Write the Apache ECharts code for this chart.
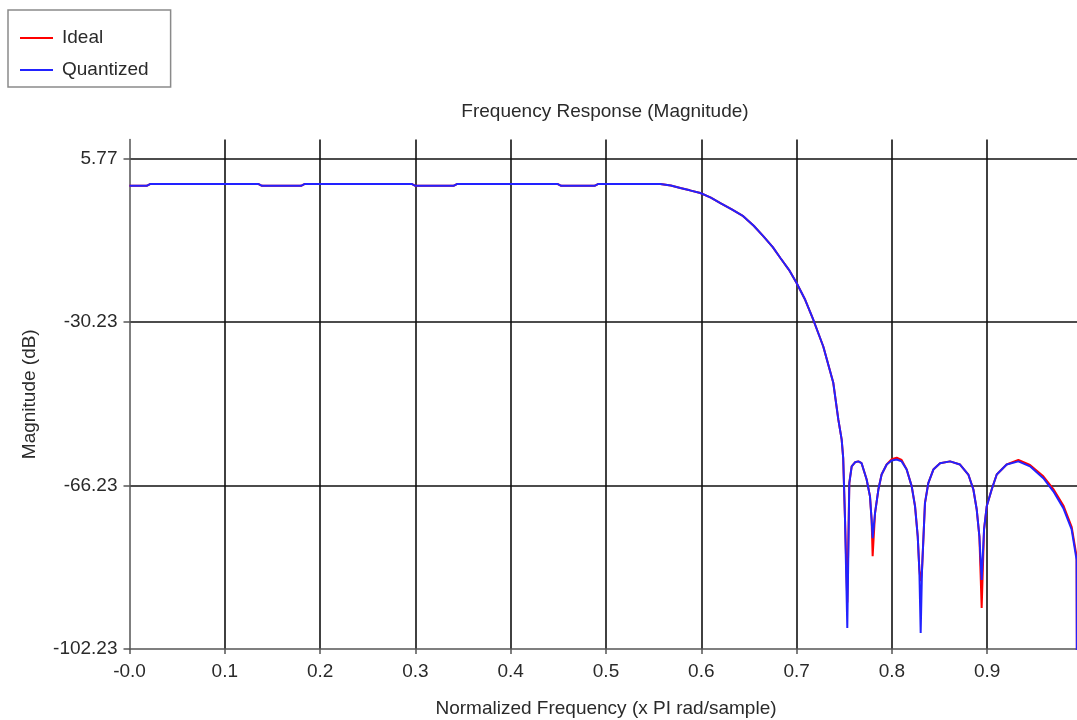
<!DOCTYPE html>
<html>
<head>
<meta charset="utf-8">
<script src="https://cdn.jsdelivr.net/npm/echarts@6/dist/echarts.min.js"></script>
<style>
html,body{margin:0;padding:0;background:#fff;}
#chart{width:1077px;height:720px;}
</style>
</head>
<body>
<div id="chart"></div>
<script>
// ---- data ----
var freq = [0.000,0.018,0.022,0.135,0.139,0.180,0.184,0.296,0.300,0.340,0.344,0.449,0.453,0.488,0.492,0.557,
  0.568,0.578,0.588,0.599,0.610,0.620,0.632,0.644,0.655,0.665,0.675,0.683,0.692,0.700,0.709,0.7175,0.728,0.7385,
  0.7438,0.7473,0.7489,0.7508,0.7532,0.7553,0.7578,0.7613,0.7648,0.7682,0.7735,0.7770,0.7787,0.7798,0.7823,0.7858,
  0.7892,0.7945,0.7998,0.8050,0.8102,0.8155,0.8208,0.8243,0.8271,0.8288,0.8302,0.8316,0.8347,0.8382,0.8435,0.8505,
  0.8610,0.8715,0.8802,0.8855,0.8890,0.8918,0.8942,0.8967,0.8995,0.9047,0.9100,0.9204,0.9327,0.9449,0.9589,0.9694,
  0.9799,0.9886,0.9938,0.9941,1.0000];
var quantizedDb = [-0.20,-0.20,0.22,0.22,-0.20,-0.20,0.22,0.22,-0.20,-0.20,0.22,0.22,-0.20,-0.20,0.22,0.22,
  -0.15,-0.68,-1.20,-1.79,-2.80,-4.00,-5.40,-6.90,-9.00,-11.30,-13.70,-16.10,-18.70,-21.60,-25.30,-29.70,-35.60,-43.60,
  -51.72,-56.10,-60.20,-73.70,-97.60,-65.70,-62.00,-61.10,-60.90,-61.30,-64.90,-68.60,-73.70,-77.80,-72.30,-67.10,
  -63.80,-61.60,-60.70,-60.50,-60.90,-62.70,-66.40,-70.80,-77.40,-84.80,-98.70,-84.80,-70.10,-65.70,-62.70,-61.30,
  -60.90,-61.60,-63.80,-67.10,-71.50,-77.40,-87.00,-75.90,-70.80,-67.10,-63.80,-61.60,-60.90,-62.00,-64.60,-67.50,
  -71.20,-75.90,-82.60,-106.00,-130.00];
var idealDb = [-0.20,-0.20,0.22,0.22,-0.20,-0.20,0.22,0.22,-0.20,-0.20,0.22,0.22,-0.20,-0.20,0.22,0.22,
  -0.15,-0.68,-1.20,-1.79,-2.80,-4.00,-5.40,-6.90,-9.00,-11.30,-13.70,-16.10,-18.70,-21.60,-25.30,-29.70,-35.60,-43.60,
  -51.72,-56.10,-60.20,-73.70,-92.00,-65.70,-62.00,-61.10,-60.90,-61.30,-64.90,-68.60,-73.70,-81.80,-72.30,-67.10,
  -63.80,-61.60,-60.40,-60.10,-60.60,-62.70,-66.40,-70.80,-77.40,-84.80,-87.30,-84.80,-70.10,-65.70,-62.70,-61.30,
  -60.90,-61.60,-63.80,-67.10,-71.50,-77.40,-93.20,-75.90,-70.80,-67.10,-63.80,-61.60,-60.60,-61.70,-64.20,-67.00,
  -70.60,-75.30,-81.80,-104.00,-130.00];
var yTickValues = [-102.23, -66.23, -30.23, 5.77];
var xTickValues = [0.0, 0.1, 0.2, 0.3, 0.4, 0.5, 0.6, 0.7, 0.8, 0.9];
var seriesNames = ['Ideal', 'Quantized'];

function pairs(xs, ys) { return xs.map(function (x, i) { return [x, ys[i]]; }); }

var FONT = 'Liberation Sans, Arial, sans-serif';
var chart = echarts.init(document.getElementById('chart'), null, {renderer: 'canvas'});
var yInterval = +(yTickValues[1] - yTickValues[0]).toFixed(2);
var xInterval = +(xTickValues[1] - xTickValues[0]).toFixed(2);

chart.setOption({
  animation: false,
  backgroundColor: '#ffffff',
  graphic: [{
    type: 'text', x: 605, y: 112,
    style: { text: 'Frequency Response (Magnitude)', font: '19px ' + FONT, fill: '#2a2a2a', align: 'center', verticalAlign: 'middle' }
  }],
  legend: {
    orient: 'vertical', left: 8, top: 10,
    padding: [17, 22, 6, 12],
    itemGap: 10, itemWidth: 33, itemHeight: 2,
    icon: 'rect',
    borderColor: '#8a8a8a', borderWidth: 1.5,
    textStyle: { fontFamily: FONT, fontSize: 19, color: '#2a2a2a', lineHeight: 22, padding: [0, 0, 0, 4] },
    data: seriesNames
  },
  grid: { left: 129.5, right: -5.5, top: 139.5, bottom: 71, containLabel: false, outerBoundsMode: 'none' },
  xAxis: {
    type: 'value', min: xTickValues[0], max: 1.0, interval: xInterval,
    name: 'Normalized Frequency (x PI rad/sample)', nameLocation: 'middle', nameGap: 50,
    nameTextStyle: { fontFamily: FONT, fontSize: 19, color: '#2a2a2a' },
    axisLine: { show: true, onZero: false, lineStyle: { color: '#555', width: 1.5 } },
    axisTick: { show: true, inside: false, length: 5, lineStyle: { color: '#555', width: 1.5 } },
    axisLabel: {
      fontFamily: FONT, fontSize: 19, color: '#2a2a2a', margin: 13, showMaxLabel: false,
      formatter: function (v) { return v === 0 ? '-0.0' : v.toFixed(1); }
    },
    splitLine: { show: true, showMinLine: false, showMaxLine: false, lineStyle: { color: '#111', width: 1.6 } }
  },
  yAxis: {
    type: 'value', min: yTickValues[0], max: 10.0, interval: yInterval,
    name: 'Magnitude (dB)', nameLocation: 'middle', nameGap: 90, nameRotate: 90,
    nameTextStyle: { fontFamily: FONT, fontSize: 19, color: '#2a2a2a' },
    axisLine: { show: true, onZero: false, lineStyle: { color: '#555', width: 1.5 } },
    axisTick: { show: true, inside: false, length: 6, lineStyle: { color: '#555', width: 1.5 } },
    axisLabel: {
      fontFamily: FONT, fontSize: 19, color: '#2a2a2a', margin: 12, showMaxLabel: false,
      formatter: function (v) { return v.toFixed(2); }
    },
    splitLine: { show: true, showMinLine: false, showMaxLine: false, lineStyle: { color: '#111', width: 1.6 } }
  },
  series: [
    { name: seriesNames[0], type: 'line', data: pairs(freq, idealDb), symbol: 'none', clip: true,
      itemStyle: { color: '#ff0000' }, lineStyle: { color: '#ff0000', width: 2 } },
    { name: seriesNames[1], type: 'line', data: pairs(freq, quantizedDb), symbol: 'none', clip: true,
      itemStyle: { color: '#2222ff' }, lineStyle: { color: '#2222ff', width: 2 } }
  ]
});
</script>
</body>
</html>
